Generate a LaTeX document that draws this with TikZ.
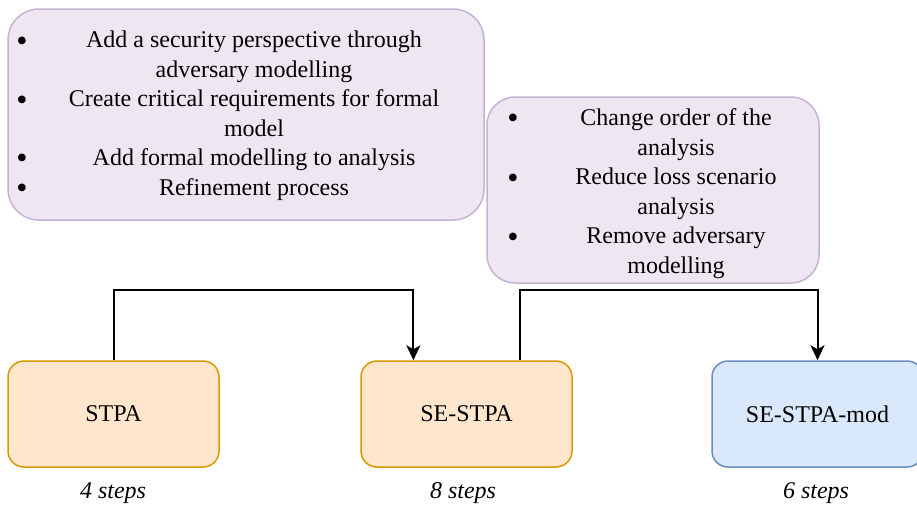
\documentclass[tikz,border=0pt]{standalone}
\usepackage{fontspec}
\setmainfont{Liberation Serif}
\usetikzlibrary{arrows.meta,calc}

\definecolor{notefill}{HTML}{EEE7F2}
\definecolor{notedraw}{HTML}{C6B2D4}
\definecolor{stepfill}{HTML}{FFE6CC}
\definecolor{stepdraw}{HTML}{D79B00}
\definecolor{modfill}{HTML}{DAE8FC}
\definecolor{moddraw}{HTML}{6C8EBF}

\tikzset{
  txt/.style={font=\fontsize{24}{29.5}\selectfont, inner sep=0pt},
  note/.style={draw=notedraw, fill=notefill, line width=1.5pt, inner sep=0pt},
  method/.style={line width=1.5pt, rounded corners=16pt, minimum width=211pt,
    minimum height=106pt, inner sep=0pt, font=\fontsize{24}{29.5}\selectfont},
  orangebox/.style={method, draw=stepdraw, fill=stepfill},
  bluebox/.style={method, draw=moddraw, fill=modfill},
  listtext/.style={txt, align=center},
  dot/.style={inner sep=0pt, font=\fontsize{32}{32}\selectfont},
  count/.style={txt, font=\fontsize{24}{29.5}\selectfont\itshape},
  conn/.style={line width=2pt, -{Stealth[length=15pt,width=14pt,inset=4pt]}}
}

\begin{document}
\begin{tikzpicture}[x=1pt,y=-1pt]
\useasboundingbox (0,0) rectangle (917,507);
\clip (0,0) rectangle (917,507);

% change notes
\node[note, rounded corners=31pt, minimum width=476pt, minimum height=211pt] (n1) at (246,114.5) {};
\node[note, rounded corners=28pt, minimum width=332pt, minimum height=186pt] (n2) at (653,190) {};

\node[listtext] (l1) at (254,115.5) {Add a security perspective through\\adversary modelling\\Create critical requirements for formal\\model\\Add formal modelling to analysis\\Refinement process};
\node[dot] (d11) at (22,44) {\textbullet};
\node[dot] (d12) at (22,103) {\textbullet};
\node[dot] (d13) at (22,161) {\textbullet};
\node[dot] (d14) at (22,191) {\textbullet};

\node[listtext] (l2) at (676,193.5) {Change order of the\\analysis\\Reduce loss scenario\\analysis\\Remove adversary\\modelling};
\node[dot] (d21) at (513,121) {\textbullet};
\node[dot] (d22) at (513,181) {\textbullet};
\node[dot] (d23) at (513,240) {\textbullet};

% methods
\node[orangebox] (stpa) at (113.5,414) {STPA};
\node[orangebox] (se) at (466.5,414) {SE-STPA};
\node[bluebox] (mod) at (817.5,414) {SE-STPA-mod};

\node[count] (c1) at (113,493) {4 steps};
\node[count] (c2) at (463,493) {8 steps};
\node[count] (c3) at (816,493) {6 steps};

% evolution arrows
\coordinate (in1) at ($(se.north west)!0.25!(se.north east)$);
\coordinate (out2) at ($(se.north west)!0.75!(se.north east)$);
\draw[conn] (stpa.north) -- ++(0,-70) -| (in1);
\draw[conn] (out2) -- ++(0,-70) -| (mod.north);
\end{tikzpicture}
\end{document}
